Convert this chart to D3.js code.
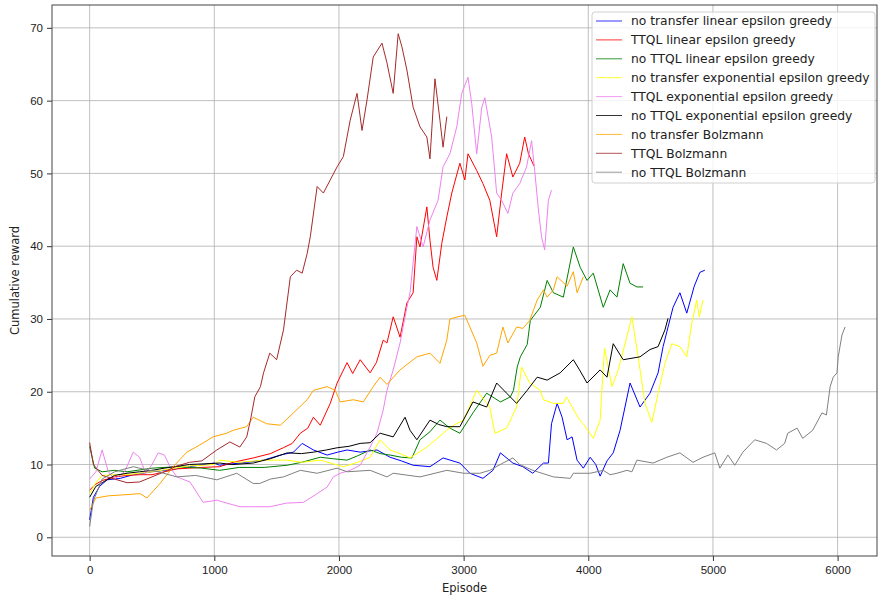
<!DOCTYPE html>
<html lang="en">
<head>
  <meta charset="UTF-8">
  <title>Cumulative reward per episode</title>
  <style>
    body { margin: 0; background: #fff; }
    svg { display: block; font-family: "DejaVu Sans", sans-serif; }
    .grid line { stroke: #b0b0b0; stroke-width: 0.8; }
    .axis text { font-size: 11.5px; fill: #222; }
    .axis line { stroke: #333; }
    .axis path { display: none; }
    .series { fill: none; stroke-width: 1; stroke-linejoin: round; }
    .legend text { font-size: 12.3px; fill: #222; }
  </style>
</head>
<body>
  <svg id="chart" width="878" height="601"></svg>
  <script src="https://cdn.jsdelivr.net/npm/d3@7"></script>
  <script>
    // [episode, cumulative reward]
    const noTransferLinear = [[0,2.4],[30,5.5],[80,7],[140,7.9],[245,8.1],[350,8.6],[500,9],[650,9.3],[800,9.7],[1000,10.2],[1043,9.9],[1150,10.1],[1260,10.3],[1395,10.6],[1530,11.3],[1635,11.7],[1705,12.9],[1795,12],[1905,11.3],[1990,11.7],[2065,12],[2170,11.7],[2305,12],[2410,11],[2500,10.5],[2595,9.9],[2730,9.7],[2835,10.9],[2970,10.2],[3050,8.8],[3155,8.1],[3235,9.2],[3295,11.6],[3395,10.2],[3475,9.7],[3555,8.8],[3640,10.2],[3680,10.2],[3705,15.6],[3750,18.4],[3790,16.5],[3830,13.4],[3870,13.8],[3910,10.6],[3960,9.5],[4015,11],[4060,10],[4095,8.4],[4150,10.5],[4200,11.6],[4255,14.7],[4335,21.2],[4415,17.9],[4495,19.8],[4560,22.6],[4600,26.2],[4680,31.6],[4735,33.6],[4790,30.8],[4850,34.5],[4895,36.4],[4935,36.7]];
    const ttqlLinear = [[0,6.5],[50,7.3],[100,7.8],[200,8.3],[300,8.5],[400,8.6],[500,8.6],[600,9],[700,9.4],[800,9.5],[900,9.6],[1043,9.7],[1150,10.3],[1312,10.9],[1450,11.5],[1553,12.3],[1625,12.9],[1690,14.3],[1750,15],[1795,16.5],[1850,15.4],[1930,18.4],[1985,21.2],[2065,24],[2110,22.5],[2170,24.4],[2250,22.6],[2300,24],[2355,27.1],[2385,26.7],[2435,30.3],[2490,27.5],[2545,32.2],[2595,33.6],[2625,41.3],[2650,39.9],[2705,45.4],[2730,40.8],[2755,37.1],[2785,35.3],[2825,40.4],[2865,44],[2905,47.3],[2970,51.4],[3010,49.1],[3035,52.7],[3105,50.4],[3155,48.6],[3210,46.3],[3265,41.3],[3305,47.3],[3345,52.7],[3395,49.5],[3450,51.4],[3490,55],[3520,52.7],[3565,51]];
    const noTtqlLinear = [[0,12.5],[40,9.5],[100,9],[200,9.2],[300,9],[500,9.5],[700,9.7],[900,9.5],[1043,9.2],[1200,9.6],[1400,9.6],[1585,9.9],[1700,10.3],[1850,11],[1950,10.8],[2065,10.6],[2150,11.2],[2250,12],[2330,11.5],[2410,11.3],[2500,11],[2585,10.9],[2650,13.4],[2730,14.5],[2810,16.1],[2890,15],[2970,14.3],[3075,17.1],[3185,19.8],[3295,18.6],[3375,19.3],[3400,20.2],[3430,23.4],[3455,24.8],[3510,26.5],[3535,29.8],[3615,31.6],[3670,35.3],[3720,33.6],[3800,33],[3880,39.9],[3935,37.1],[3990,35.3],[4040,36.3],[4120,31.6],[4175,34],[4230,33],[4280,37.6],[4335,34.9],[4390,34.4],[4440,34.4]];
    const noTransferExp = [[0,6],[50,7.5],[100,8.5],[200,8.6],[300,8.6],[400,8.8],[500,9],[650,9.4],[800,9.8],[1000,10],[1043,10.6],[1200,10.3],[1400,10.6],[1585,10.6],[1700,10.3],[1850,10.6],[2035,9.7],[2150,10.3],[2250,11],[2330,13.4],[2410,12],[2490,11.5],[2570,10.9],[2705,12.4],[2865,14.7],[2930,15.5],[3000,16.1],[3105,20.2],[3160,19],[3210,17.9],[3250,14.3],[3345,15],[3425,17.9],[3465,23.4],[3530,21.2],[3615,20.2],[3640,18.9],[3720,18.4],[3800,18.4],[3825,19.3],[3930,16.1],[3960,15.6],[4040,13.6],[4095,16.1],[4130,26],[4190,20.7],[4240,23],[4295,26.6],[4350,30.3],[4400,24.8],[4455,18.4],[4510,15.8],[4560,19.8],[4615,23.9],[4670,26.6],[4735,26.2],[4790,24.8],[4830,29.4],[4870,32.6],[4890,30.3],[4920,32.6]];
    const ttqlExp = [[0,8],[50,9],[100,12],[150,9],[200,8],[280,9],[350,11.7],[400,11],[450,8.8],[500,10],[550,11.6],[600,11.3],[650,9.5],[700,8.3],[805,7.6],[910,4.8],[1020,5.1],[1100,4.7],[1205,4.2],[1312,4.2],[1447,4.2],[1580,4.7],[1715,4.8],[1825,6],[1905,6.9],[1955,8.3],[2010,8.8],[2090,9.2],[2170,9.9],[2250,12.4],[2305,14.3],[2355,17.5],[2385,20.2],[2435,23],[2490,26.7],[2545,31.6],[2570,33.6],[2625,42.7],[2675,39.9],[2730,43.6],[2795,46.3],[2835,50.9],[2890,52.7],[2945,56.4],[2985,61],[3035,63.2],[3065,59.6],[3105,52.7],[3145,59],[3170,60.4],[3225,55],[3265,47.3],[3305,46.3],[3355,44.5],[3395,47.3],[3450,48.6],[3505,50.9],[3545,54.5],[3570,50.4],[3600,45],[3625,41.3],[3650,39.5],[3680,46.3],[3705,47.7]];
    const noTtqlExp = [[0,5.5],[50,7],[100,7.5],[200,8.5],[300,8.8],[400,9],[500,9.2],[600,9.5],[800,10],[1043,10.2],[1150,10],[1312,10.2],[1450,10.8],[1585,11.6],[1700,11.5],[1795,11.7],[1900,12],[1985,12.3],[2080,12.5],[2170,12.9],[2250,13],[2330,14.3],[2435,13.8],[2530,16.5],[2570,14.7],[2625,13.4],[2730,16.1],[2800,15.5],[2865,15.2],[2970,15.2],[3075,18.6],[3185,17.9],[3265,21.2],[3345,19.8],[3425,18.4],[3510,20.2],[3590,22],[3670,21.6],[3775,22.6],[3880,24.4],[3930,23],[3990,21.2],[4095,23],[4150,22],[4200,26.6],[4280,24.4],[4415,24.8],[4495,25.8],[4560,26.2],[4615,28.5],[4640,30.1]];
    const noTransferBoltz = [[0,3.7],[50,5.4],[150,5.7],[245,5.8],[405,6],[460,5.4],[565,7.4],[670,9.7],[780,11.7],[885,12.7],[990,13.8],[1100,14.3],[1150,14.7],[1260,15.2],[1312,16.5],[1420,15.6],[1530,15.4],[1635,17.1],[1745,18.9],[1795,20.2],[1905,20.7],[1970,20.2],[2010,18.6],[2115,18.9],[2195,18.6],[2275,20.7],[2330,22],[2385,21],[2490,23],[2625,24.8],[2730,25.3],[2810,23.9],[2865,27.1],[2890,30],[2955,30.3],[3010,30.5],[3050,28.9],[3105,26.7],[3155,23.5],[3210,25],[3265,25.3],[3315,28.9],[3355,26.7],[3425,28.9],[3475,28.7],[3530,29.8],[3590,32.6],[3640,34],[3670,33],[3720,34],[3750,35.8],[3830,34.5],[3880,36.5],[3910,33.6],[3960,35.8]];
    const ttqlBoltz = [[0,13],[30,10],[100,8.5],[200,8],[300,7.5],[400,7.6],[500,8.3],[600,9],[700,9.8],[800,10.3],[900,10.5],[1020,12],[1125,13.1],[1205,12.4],[1260,13.8],[1290,16.1],[1325,19.3],[1370,20.7],[1395,22.6],[1445,25.3],[1500,24.4],[1555,28.5],[1610,35.8],[1660,36.7],[1705,36.3],[1745,39],[1770,41.3],[1825,48.2],[1875,47.3],[1930,49.1],[1985,50.9],[2035,52.3],[2090,57.3],[2145,61],[2185,55.9],[2225,60.1],[2275,66],[2345,67.9],[2385,65.2],[2435,61],[2475,69.2],[2505,67.4],[2545,64.2],[2595,59.1],[2650,56.4],[2705,55],[2730,52],[2770,63],[2810,57.3],[2835,53.6],[2865,57.8]];
    const noTtqlBoltz = [[0,1.5],[30,5],[100,8],[200,9],[350,9.7],[450,9.3],[550,9],[700,8.3],[850,8.5],[1020,7.9],[1180,8.8],[1312,7.4],[1365,7.4],[1450,8],[1555,8.3],[1690,9.2],[1825,8.8],[1985,9.5],[2065,9],[2250,9.2],[2385,8.3],[2435,8.8],[2650,8.3],[2865,9.2],[3000,8.8],[3130,8.8],[3210,9.2],[3315,10.2],[3395,10.9],[3450,10],[3555,9.2],[3720,8.3],[3855,8.1],[3880,8.8],[4015,8.8],[4120,9.2],[4175,8.6],[4230,8.8],[4310,9.2],[4350,9],[4390,10.6],[4520,10.2],[4630,11],[4735,11.6],[4840,10.3],[4920,11],[5015,11.6],[5055,9.5],[5120,11.3],[5175,9.9],[5240,11.7],[5335,13.4],[5430,12.9],[5510,12],[5575,12.9],[5600,14.3],[5675,15],[5720,13.6],[5800,14.7],[5875,17.1],[5910,16.8],[5940,20.7],[5965,22],[5995,22.6],[6005,24.8],[6035,27.8],[6060,28.9]];

    const seriesNames = ["no transfer linear epsilon greedy", "TTQL linear epsilon greedy", "no TTQL linear epsilon greedy",
      "no transfer exponential epsilon greedy", "TTQL exponential epsilon greedy", "no TTQL exponential epsilon greedy",
      "no transfer Bolzmann", "TTQL Bolzmann", "no TTQL Bolzmann"];
    const seriesColors = ["blue", "red", "green", "yellow", "violet", "black", "orange", "brown", "gray"];
    const seriesData = [noTransferLinear, ttqlLinear, noTtqlLinear, noTransferExp, ttqlExp, noTtqlExp,
      noTransferBoltz, ttqlBoltz, noTtqlBoltz];
    const xTicks = [0, 1000, 2000, 3000, 4000, 5000, 6000];
    const yTicks = [0, 10, 20, 30, 40, 50, 60, 70];

    const margin = { top: 5, right: 1, bottom: 45, left: 52 };
    const width = 878, height = 601;
    const svg = d3.select("#chart");

    const x = d3.scaleLinear().domain([-302, 6316]).range([margin.left, width - margin.right]);
    const y = d3.scaleLinear().domain([-2.57, 73.14]).range([height - margin.bottom, margin.top]);

    // grid
    const grid = svg.append("g").attr("class", "grid");
    grid.selectAll(".gx").data(xTicks).join("line")
      .attr("x1", d => x(d)).attr("x2", d => x(d))
      .attr("y1", y.range()[0]).attr("y2", y.range()[1]);
    grid.selectAll(".gy").data(yTicks).join("line")
      .attr("x1", x.range()[0]).attr("x2", x.range()[1])
      .attr("y1", d => y(d)).attr("y2", d => y(d));

    // lines
    const line = d3.line().x(d => x(d[0])).y(d => y(d[1]));
    svg.append("g").selectAll("path")
      .data(seriesData)
      .join("path")
      .attr("class", "series")
      .attr("stroke", (d, i) => seriesColors[i])
      .attr("d", line);

    // axes
    svg.append("g")
      .attr("class", "axis")
      .attr("transform", `translate(0,${height - margin.bottom})`)
      .call(d3.axisBottom(x).tickValues(xTicks).tickFormat(d3.format("d")).tickSize(5).tickPadding(5));
    svg.append("g")
      .attr("class", "axis")
      .attr("transform", `translate(${margin.left},0)`)
      .call(d3.axisLeft(y).tickValues(yTicks).tickSize(5).tickPadding(4));

    // frame
    svg.append("rect")
      .attr("x", margin.left).attr("y", margin.top)
      .attr("width", width - margin.left - margin.right)
      .attr("height", height - margin.top - margin.bottom)
      .attr("fill", "none").attr("stroke", "#444").attr("stroke-width", 1);

    svg.append("text")
      .attr("x", (x(-302) + x(6316)) / 2).attr("y", 592)
      .attr("text-anchor", "middle").style("font-size", "11.5px").attr("fill", "#222")
      .text("Episode");
    svg.append("text")
      .attr("transform", `translate(19,${(margin.top + height - margin.bottom) / 2}) rotate(-90)`)
      .attr("text-anchor", "middle").style("font-size", "11.5px").attr("fill", "#222")
      .text("Cumulative reward");

    // legend
    const legend = svg.append("g").attr("class", "legend");
    legend.append("rect")
      .attr("x", 592).attr("y", 12).attr("width", 283).attr("height", 171)
      .attr("rx", 3)
      .attr("fill", "#fff").attr("fill-opacity", 0.8)
      .attr("stroke", "#d0d0d0");
    const item = legend.selectAll(".item").data(seriesNames).join("g")
      .attr("transform", (d, i) => `translate(0,${21 + i * 18.9})`);
    item.append("line")
      .attr("x1", 596).attr("x2", 622)
      .attr("stroke", (d, i) => seriesColors[i]).attr("stroke-width", 0.8);
    item.append("text")
      .attr("x", 631).attr("dy", "0.35em")
      .text(d => d);
  </script>
</body>
</html>
